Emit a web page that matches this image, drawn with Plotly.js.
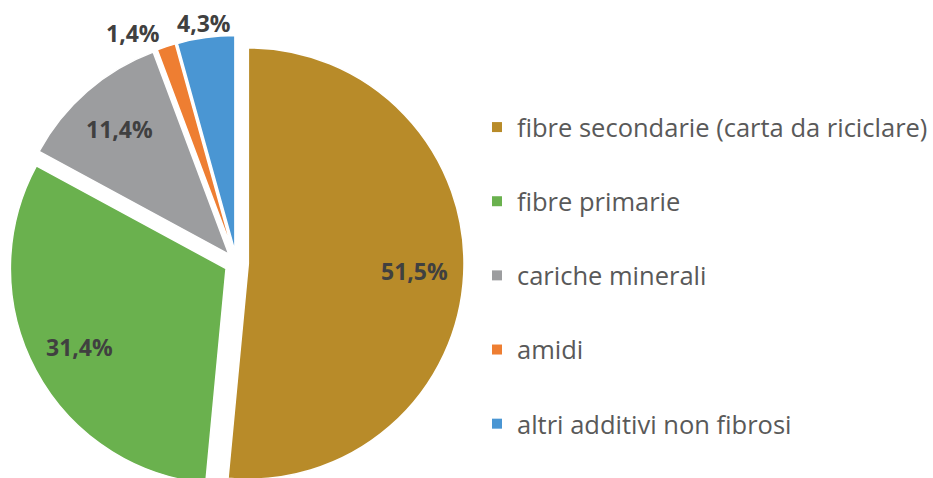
<!DOCTYPE html>
<html>
<head>
<meta charset="utf-8">
<script src="https://cdn.plot.ly/plotly-3.0.1.min.js"></script>
<style>
html,body{margin:0;padding:0;overflow:hidden;background:#fff;}
#chart{width:933px;height:492px;}
</style>
</head>
<body>
<div id="chart"></div>
<script>
const categories = [
  'fibre secondarie (carta da riciclare)',
  'fibre primarie',
  'cariche minerali',
  'amidi',
  'altri additivi non fibrosi'
];
const values = [51.5, 31.4, 11.4, 1.4, 4.3];
const colors = ['#B88B29', '#6AB14E', '#9C9D9F', '#EE7E32', '#4A96D3'];
const labelPlacement = ['inside', 'inside', 'inside', 'outside', 'outside'];

const W = 933, H = 492;
const PULL = 0.055;
const dom = {x0: 9, x1: 465, y0: 35, y1: 491}; // pixel box of pie domain
const textLabels = values.map(v => v.toFixed(1).replace('.', ',') + '%');

const pie = {
  type: 'pie',
  labels: categories,
  values: values,
  textinfo: 'none',
  sort: false,
  direction: 'clockwise',
  rotation: 0,
  pull: values.map(() => PULL),
  marker: {colors: colors, line: {color: '#ffffff', width: 1.5}},
  domain: {x: [dom.x0 / W, dom.x1 / W], y: [1 - dom.y1 / H, 1 - dom.y0 / H]},
  showlegend: false,
  hoverinfo: 'none'
};

// percentage labels positioned along each slice's bisector, derived from the values
const total = values.reduce((a, b) => a + b, 0);
const cx = (dom.x0 + dom.x1) / 2, cy = (dom.y0 + dom.y1) / 2;
const R = (dom.x1 - dom.x0) / 2 / (1 + PULL);
let cum = 0;
const annotations = values.map((v, i) => {
  const mid = (cum + v / 2) / total * 2 * Math.PI;
  cum += v;
  const dx = Math.sin(mid), dy = -Math.cos(mid);
  let r, xanchor = 'center';
  if (labelPlacement[i] === 'inside') {
    r = R * (PULL + 0.77);
  } else {
    r = R * (1 + PULL) + 14;
    xanchor = dx < -0.2 ? 'right' : (dx > 0.2 ? 'left' : 'center');
  }
  const px = cx + dx * r, py = cy + dy * r;
  return {
    x: px / W, y: 1 - py / H, xref: 'paper', yref: 'paper',
    xanchor: xanchor, yanchor: 'middle',
    text: '<b>' + textLabels[i] + '</b>', showarrow: false,
    font: {family: 'Open Sans, sans-serif', size: 23, color: '#404040'}
  };
});

const legendTraces = categories.map((c, i) => ({
  type: 'scatter',
  mode: 'markers',
  x: [null], y: [null],
  name: c,
  legendgroup: 'g' + i,
  marker: {symbol: 'square', size: 10, color: colors[i]},
  hoverinfo: 'none',
  showlegend: true
}));

const layout = {
  width: W, height: H,
  margin: {l: 0, r: 0, t: 0, b: 0},
  paper_bgcolor: '#ffffff',
  plot_bgcolor: '#ffffff',
  xaxis: {visible: false},
  yaxis: {visible: false},
  showlegend: true,
  annotations: annotations,
  legend: {
    x: 478 / W, xanchor: 'left',
    y: 1 - 104 / H, yanchor: 'top',
    font: {family: 'Open Sans, sans-serif', size: 25.5, color: '#595959'},
    tracegroupgap: 38,
    bgcolor: 'rgba(0,0,0,0)'
  }
};

Plotly.newPlot('chart', [pie].concat(legendTraces), layout, {displayModeBar: false, staticPlot: true});
</script>
</body>
</html>
